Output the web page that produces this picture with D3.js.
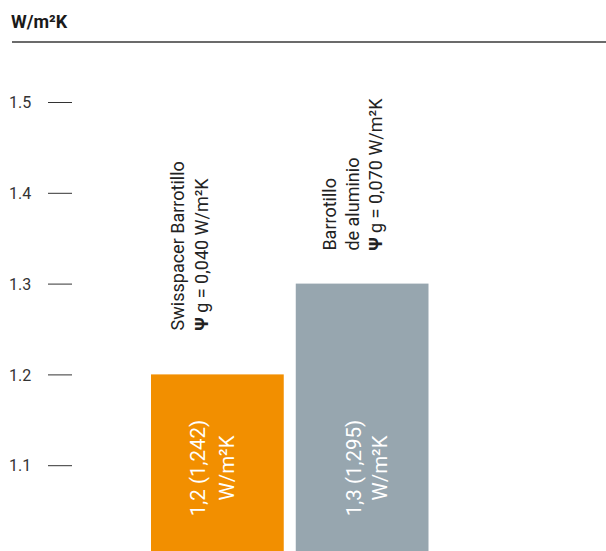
<!DOCTYPE html>
<html>
<head>
<meta charset="utf-8">
<script src="https://cdn.jsdelivr.net/npm/d3@7"></script>
<style>
  html, body { margin: 0; padding: 0; background: #fff; }
  svg { display: block; font-family: Roboto, "Liberation Sans", Arial, sans-serif; }
</style>
</head>
<body>
<div id="chart"></div>
<script>
// ---- data ----
const unitTitle = "W/m²K";
const categories = ["Swisspacer", "Aluminio"];
const values = [1.2, 1.3];
const barColors = ["#F28F00", "#97A6AF"];
const valueLabels = [["1,2 (1,242)", "W/m²K"], ["1,3 (1,295)", "W/m²K"]];
const topLabels = [
  ["Swisspacer Barrotillo", "Ψ|g = 0,040 W/m²K"],
  ["Barrotillo", "de aluminio", "Ψ|g = 0,070 W/m²K"]
];
const tickValues = [1.1, 1.2, 1.3, 1.4, 1.5];
const tickLabels = ["1.1", "1.2", "1.3", "1.4", "1.5"];

// ---- layout ----
const W = 606, H = 551;
const svg = d3.select("#chart").append("svg").attr("width", W).attr("height", H);

const y = d3.scaleLinear().domain([1.0, 1.5]).range([556, 102]);
const x = d3.scaleBand().domain(categories).range([151, 428.5]).paddingInner(0.083).paddingOuter(0);

// title
svg.append("text").attr("x", 11).attr("y", 28)
  .attr("font-size", 18).attr("font-weight", "bold").attr("fill", "#1a1a1a")
  .text(unitTitle);
svg.append("line").attr("x1", 12).attr("x2", W).attr("y1", 42).attr("y2", 42)
  .attr("stroke", "#3a3a3a").attr("stroke-width", 1.4);

// y axis (custom: labels at left, short tick dashes)
const axis = d3.axisLeft(y).tickValues(tickValues).tickFormat((d, i) => tickLabels[i]).tickSize(0);
const gAxis = svg.append("g").attr("transform", "translate(10,0)").call(axis);
gAxis.select(".domain").remove();
gAxis.selectAll(".tick text")
  .attr("x", -1).attr("dy", "0.35em").attr("text-anchor", "start")
  .attr("font-family", "Roboto, Liberation Sans, Arial, sans-serif")
  .attr("font-size", 16).attr("fill", "#333");
gAxis.selectAll(".tick").append("line")
  .attr("x1", 38).attr("x2", 62).attr("stroke", "#333").attr("stroke-width", 1);

// bars
svg.selectAll("rect.bar").data(categories).join("rect")
  .attr("class", "bar")
  .attr("x", d => x(d))
  .attr("width", x.bandwidth())
  .attr("y", (d, i) => y(values[i]))
  .attr("height", (d, i) => y(1.0) - y(values[i]))
  .attr("fill", (d, i) => barColors[i]);

// value labels inside bars (rotated)
const labelOffsets = [[-12, 17], [-1.5, 24.5]];
categories.forEach((c, i) => {
  const cx = x(c) + x.bandwidth() / 2;
  valueLabels[i].forEach((line, j) => {
    svg.append("text")
      .attr("transform", `translate(${cx + labelOffsets[i][j]},468) rotate(-90)`)
      .attr("text-anchor", "middle")
      .attr("font-size", 20.5).attr("fill", "#fff")
      .text(line);
  });
});

// top labels (rotated)
const topStart = [44, 33];
const topBase = [[184, 208], [336, 359, 382]];
categories.forEach((c, i) => {
  const y0 = y(values[i]) - topStart[i];
  topLabels[i].forEach((line, j) => {
    const t = svg.append("text")
      .attr("transform", `translate(${topBase[i][j]},${y0}) rotate(-90)`)
      .attr("text-anchor", "start")
      .attr("font-size", 18).attr("fill", "#222");
    if (line.includes("|")) {
      const [sym, rest] = line.split("|");
      t.append("tspan").attr("font-weight", "bold").text(sym);
      t.append("tspan").text(" " + rest);
    } else {
      t.text(line);
    }
  });
});
</script>
</body>
</html>
